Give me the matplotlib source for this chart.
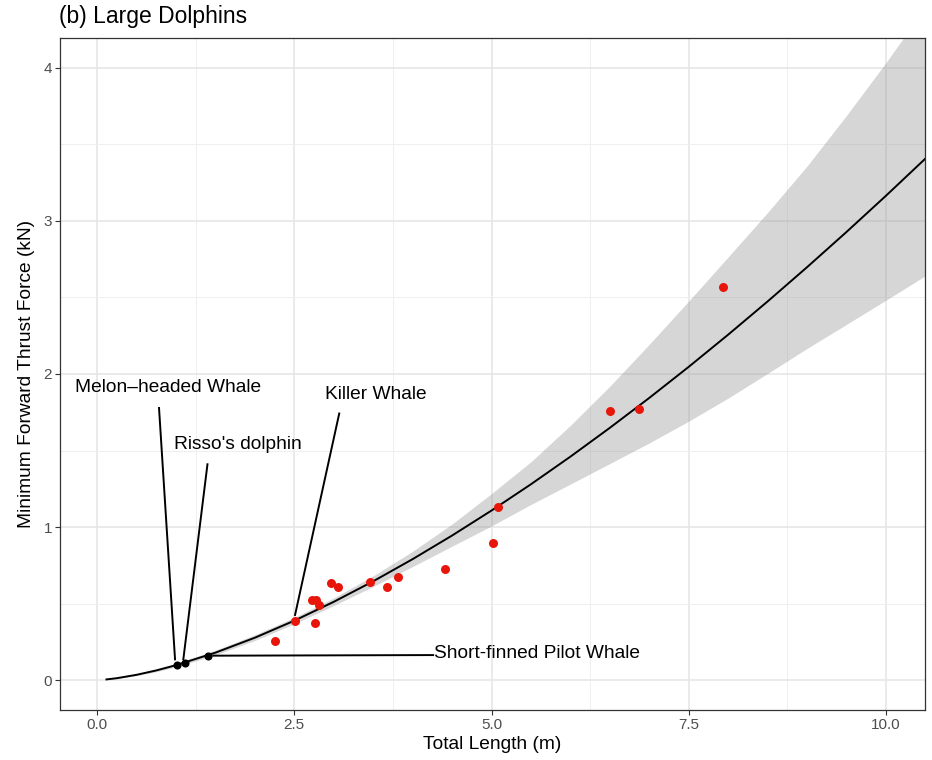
import matplotlib
matplotlib.use("Agg")
import matplotlib.pyplot as plt

plt.rcParams['font.family'] = ['Liberation Sans', 'DejaVu Sans']

# fitted curve and confidence band
fit_x = [0.12, 0.25, 0.5, 0.75, 1.0, 1.5, 2.0, 2.5, 3.0, 3.5, 4.0, 4.5, 5.0, 5.5,
         6.0, 6.5, 7.0, 7.5, 8.0, 8.5, 9.0, 9.5, 10.0, 10.5]
fit_y = [0.0039, 0.0118, 0.0338, 0.0625, 0.0967, 0.1787, 0.2764, 0.3876, 0.5109,
         0.6452, 0.7899, 0.9442, 1.1076, 1.2795, 1.4599, 1.6483, 1.8439, 2.0471,
         2.2574, 2.4746, 2.6985, 2.9288, 3.1654, 3.4084]
band_lo = [0.0031, 0.0098, 0.0286, 0.0543, 0.0856, 0.1639, 0.2583, 0.3674, 0.4866,
           0.6116, 0.7417, 0.8743, 1.0069, 1.1475, 1.2806, 1.4148, 1.5495, 1.6918,
           1.8428, 2.0037, 2.1675, 2.3244, 2.4827, 2.6422]
band_hi = [0.0049, 0.0143, 0.0399, 0.0719, 0.1093, 0.1948, 0.2957, 0.4089, 0.5364,
           0.6807, 0.8412, 1.0197, 1.2184, 1.4266, 1.6643, 1.9203, 2.1942, 2.4770,
           2.7653, 3.0561, 3.3596, 3.6903, 4.0359, 4.3968]

# observed species (red)
obs_len = [2.26, 2.51, 2.72, 2.78, 2.81, 2.76, 2.97, 3.05, 3.46, 3.68, 3.82, 4.41,
           5.02, 5.08, 6.50, 6.87, 7.94]
obs_force = [0.253, 0.388, 0.523, 0.523, 0.49, 0.375, 0.634, 0.61, 0.64, 0.61,
             0.672, 0.725, 0.893, 1.132, 1.76, 1.771, 2.571]

# predicted species (black)
pred_len = [1.01, 1.115, 1.41]
pred_force = [0.095, 0.111, 0.160]

# labels (Killer Whale points at an observed red dot)
label_names = ["Melon\u2013headed Whale", "Risso's dolphin", "Short-finned Pilot Whale",
               "Killer Whale"]
label_x = [0.906, 1.781, 5.577, 3.536]
label_y = [1.915, 1.536, 0.170, 1.863]
seg_start_x = [0.786, 1.40, 4.26, 3.07]
seg_start_y = [1.778, 1.41, 0.163, 1.742]
seg_end_x = [0.989, 1.094, 1.474, 2.51]
seg_end_y = [0.135, 0.135, 0.159, 0.425]

fig = plt.figure(figsize=(9.32, 7.6), dpi=100)
ax = fig.add_axes([60 / 932, 50 / 760, 865 / 932, 672 / 760])

ax.set_xlim(-0.469, 10.494)
ax.set_ylim(-0.196, 4.196)
ax.set_xticks([0, 2.5, 5, 7.5, 10])
ax.set_xticklabels(["0.0", "2.5", "5.0", "7.5", "10.0"])
ax.set_yticks([0, 1, 2, 3, 4])
ax.set_xticks([1.25, 3.75, 6.25, 8.75], minor=True)
ax.set_yticks([0.5, 1.5, 2.5, 3.5], minor=True)
ax.grid(True, which='major', color='#E6E6E6', linewidth=1.2)
ax.grid(True, which='minor', color='#EFEFEF', linewidth=0.7)
ax.set_axisbelow(True)
ax.tick_params(which='major', length=3.3, width=0.8, color='#333333',
               labelsize=11, labelcolor='#4D4D4D', pad=2.5)
ax.tick_params(which='minor', length=0)
for s in ax.spines.values():
    s.set_color('#333333')
    s.set_linewidth(0.9)

ax.fill_between(fit_x, band_lo, band_hi, color='#999999', alpha=0.4, linewidth=0, zorder=2)
ax.plot(fit_x, fit_y, color='black', linewidth=1.4, zorder=3)
ax.scatter(obs_len, obs_force, s=42, color='#E8150B', linewidths=0, zorder=4)
ax.scatter(pred_len, pred_force, s=34, color='black', linewidths=0, zorder=4)

for i in range(len(label_names)):
    ax.plot([seg_start_x[i], seg_end_x[i]], [seg_start_y[i], seg_end_y[i]],
            color='black', linewidth=1.4, zorder=3)
    ax.text(label_x[i], label_y[i], label_names[i], fontsize=13.8, color='black',
            ha='center', va='center', zorder=5)

ax.set_xlabel("Total Length (m)", fontsize=13.8, labelpad=3)
ax.set_ylabel("Minimum Forward Thrust Force (kN)", fontsize=13.8, labelpad=6)
fig.text(59 / 932, 1 - 16 / 760, "(b) Large Dolphins", fontsize=16.5,
         ha='left', va='center')

fig.savefig("out.png", dpi=100, facecolor='white')
